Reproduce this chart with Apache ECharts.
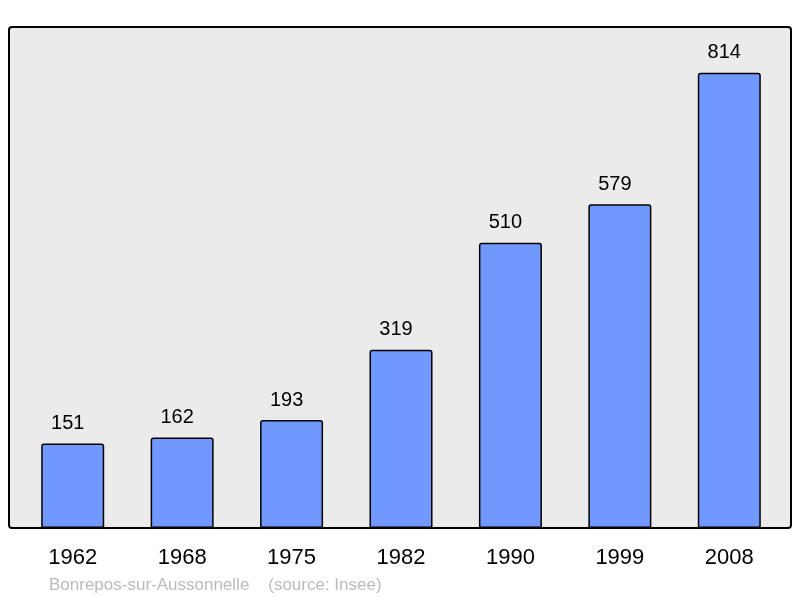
<!DOCTYPE html>
<html>
<head>
<meta charset="utf-8">
<script src="https://cdn.jsdelivr.net/npm/echarts@6/dist/echarts.min.js"></script>
<style>
html, body { margin: 0; padding: 0; background: #fff; }
#chart { width: 800px; height: 598px; }
</style>
</head>
<body>
<div id="chart"></div>
<script>
// données
var years = ['1962', '1968', '1975', '1982', '1990', '1999', '2008']
var population = [151, 162, 193, 319, 510, 579, 814]
var sourceText = 'Bonrepos-sur-Aussonnelle    (source: Insee)'

var chart = echarts.init(document.getElementById('chart'))
var option = {
    animation: false,
    graphic: [{
        type: 'rect',
        shape: { x: 9, y: 27, width: 782, height: 501, r: 3 },
        style: { fill: '#ebebeb', stroke: '#000', lineWidth: 2 },
        z: -10
    }, {
        type: 'text',
        left: 49,
        top: 577,
        style: {
            text: sourceText,
            fill: '#bbbbbb',
            font: '17px "Liberation Sans", Arial, sans-serif'
        }
    }],
    grid: { left: 18, top: 27, width: 766, height: 501 },
    xAxis: {
        type: 'category',
        data: years,
        axisLine: { show: false },
        axisTick: { show: false },
        axisLabel: {
            color: '#000',
            fontSize: 22,
            fontFamily: '"Liberation Sans", Arial, sans-serif',
            margin: 19
        }
    },
    yAxis: {
        type: 'value',
        min: 0,
        max: 896,
        show: false,
        splitLine: { show: false }
    },
    series: [{
        type: 'bar',
        data: population,
        barWidth: 63,
        itemStyle: {
            color: '#7098ff',
            borderColor: '#000',
            borderWidth: 1.5,
            borderRadius: [2, 2, 0, 0]
        },
        label: {
            show: true,
            position: 'top',
            distance: 10,
            offset: [-5, 0],
            color: '#000',
            fontSize: 20,
            fontFamily: '"Liberation Sans", Arial, sans-serif'
        }
    }]
}
chart.setOption(option)
</script>
</body>
</html>
